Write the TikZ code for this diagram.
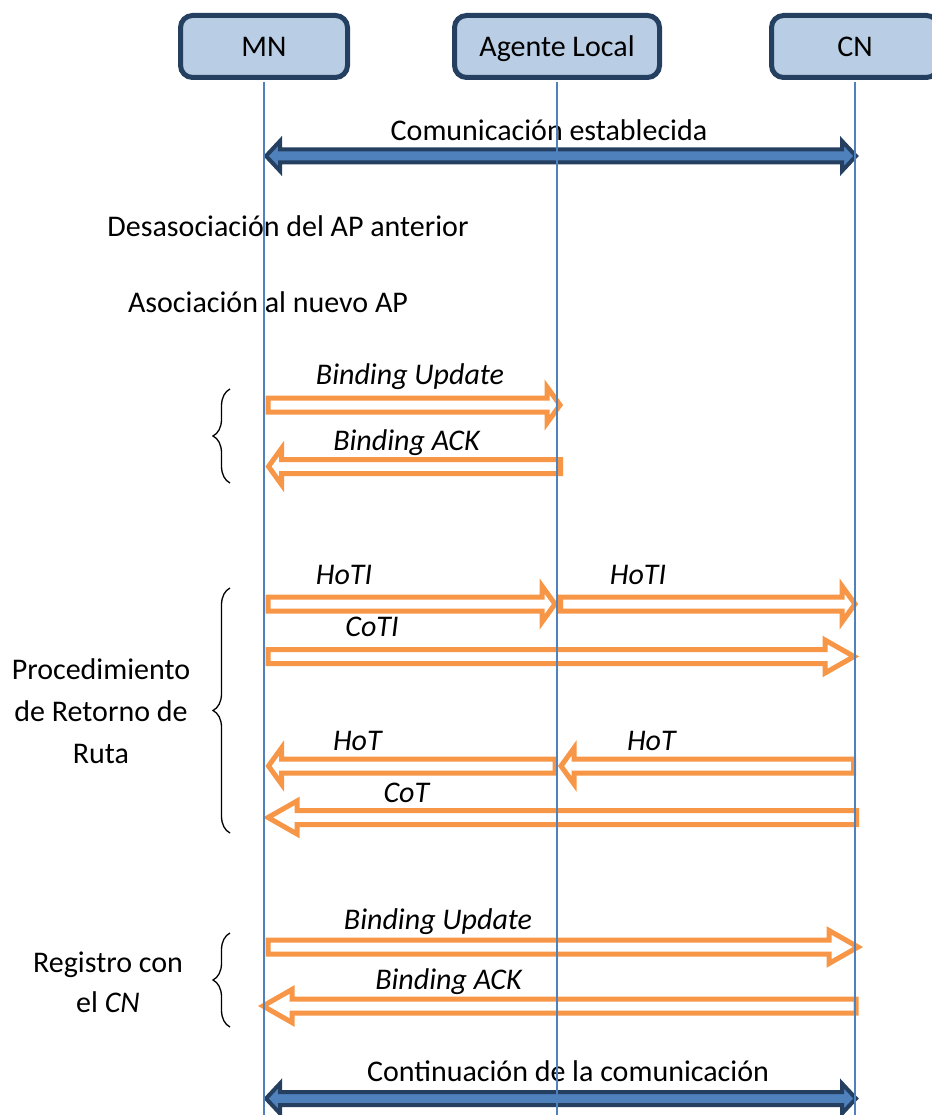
\documentclass[tikz,border=0pt]{standalone}
\usepackage{fontspec}
\setmainfont{Carlito}
\usetikzlibrary{calc,decorations.pathreplacing}
\definecolor{boxfill}{HTML}{B9CDE5}
\definecolor{boxdraw}{HTML}{243F60}
\definecolor{lifeblue}{HTML}{4F81BD}
\definecolor{orng}{HTML}{F79646}
\definecolor{darkfill}{HTML}{4F81BD}
\definecolor{darkdraw}{HTML}{243F60}

% hollow block arrow: #1 style, #2 from, #3 tip, #4 shaft half, #5 head half, #6 head length
\newcommand\blockarrow[6]{%
  \path[#1] let \p1=(#2), \p2=(#3), \n1={ifthenelse(\x2>\x1,1,-1)} in
    (\x1,\y1+#4) -- ({\x2-\n1*#6},\y1+#4) -- ({\x2-\n1*#6},\y1+#5) -- (\x2,\y1)
    -- ({\x2-\n1*#6},\y1-#5) -- ({\x2-\n1*#6},\y1-#4) -- (\x1,\y1-#4) -- cycle;}
% double-headed block arrow (left to right): #1 style, #2 left tip, #3 right tip, #4 shaft half, #5 head half, #6 head length
\newcommand\dblarrow[6]{%
  \path[#1] let \p1=(#2), \p2=(#3) in
    (\x1,\y1) -- (\x1+#6,\y1+#5) -- (\x1+#6,\y1+#4) -- (\x2-#6,\y1+#4) -- (\x2-#6,\y1+#5)
    -- (\x2,\y1) -- (\x2-#6,\y1-#5) -- (\x2-#6,\y1-#4) -- (\x1+#6,\y1-#4) -- (\x1+#6,\y1-#5) -- cycle;}

\begin{document}
\begin{tikzpicture}[x=1pt,y=-1pt,
  every node/.style={font=\fontsize{30}{42}\selectfont, inner sep=0pt},
  lbl/.style={text height=19.3pt, text depth=0pt},
  entity/.style={draw=boxdraw, fill=boxfill, line width=5pt, rounded corners=12pt,
    minimum height=62pt, text height=19.3pt, text depth=0pt},
  hollow/.style={draw=orng, fill=white, line width=5pt, line join=miter},
  darkarrow/.style={draw=darkdraw, fill=darkfill, line width=4pt, line join=miter},
  lifeline/.style={draw=lifeblue, line width=1.3pt},
  bracestyle/.style={draw=black, line width=1.3pt, decorate, decoration={brace, amplitude=17pt}}]
\useasboundingbox (0,0) rectangle (931,1115);

% participants
\node[entity, minimum width=167pt] (mn) at (264,46.5) {MN};
\node[entity, minimum width=205pt] (al) at (557,46.5) {Agente Local};
\node[entity, minimum width=167pt] (cn) at (855,46.5) {CN};
\coordinate (bot) at (0,1115);

% coordinates on the lifelines
\coordinate (c1a) at (266,156);   \coordinate (c1b) at (856,156);
\coordinate (bu1a) at (268,405);  \coordinate (bu1b) at (560,405);
\coordinate (ba1a) at (560.5,466.5); \coordinate (ba1b) at (268.5,466.5);
\coordinate (hti1a) at (268,604); \coordinate (hti1b) at (555,604);
\coordinate (hti2a) at (560.5,604); \coordinate (hti2b) at (855,604);
\coordinate (coti1) at (268,656.5); \coordinate (coti2) at (854,656.5);
\coordinate (hot2a) at (853.5,766); \coordinate (hot2b) at (561,766);
\coordinate (hot1a) at (555,766); \coordinate (hot1b) at (268.5,766);
\coordinate (cot1) at (856.5,817.5); \coordinate (cot2) at (268,817.5);
\coordinate (bu2a) at (268,947); \coordinate (bu2b) at (858,947);
\coordinate (ba2a) at (856,1006); \coordinate (ba2b) at (263,1006);
\coordinate (c2a) at (266,1098.5); \coordinate (c2b) at (856,1098.5);

% dark double arrows
\dblarrow{darkarrow}{c1a}{c1b}{6.5pt}{15pt}{14pt}
\dblarrow{darkarrow}{c2a}{c2b}{6.5pt}{15pt}{14pt}

% hollow orange arrows
\blockarrow{hollow}{bu1a}{bu1b}{7pt}{18pt}{13pt}
\blockarrow{hollow}{ba1a}{ba1b}{7pt}{18pt}{13pt}
\blockarrow{hollow}{hti1a}{hti1b}{7pt}{18pt}{13pt}
\blockarrow{hollow}{hti2a}{hti2b}{7pt}{18pt}{13pt}
\blockarrow{hollow}{coti1}{coti2}{7pt}{16.5pt}{29pt}
\blockarrow{hollow}{hot2a}{hot2b}{7pt}{18pt}{13pt}
\blockarrow{hollow}{hot1a}{hot1b}{7pt}{18pt}{13pt}
\blockarrow{hollow}{cot1}{cot2}{7pt}{16.5pt}{29pt}
\blockarrow{hollow}{bu2a}{bu2b}{7pt}{16.5pt}{29pt}
\blockarrow{hollow}{ba2a}{ba2b}{7pt}{16.5pt}{29pt}

% labels
\node[lbl] (t1) at (549,131) {Comunicación establecida};
\node[lbl] (t2) at (288,227) {Desasociación del AP anterior};
\node[lbl] (t3) at (268,303) {Asociación al nuevo AP};
\node[lbl] (l1) at (410,375) {\textit{Binding Update}};
\node[lbl] (l2) at (407,441) {\textit{Binding ACK}};
\node[lbl] (l3) at (344,575) {\textit{HoTI}};
\node[lbl] (l4) at (638,575) {\textit{HoTI}};
\node[lbl] (l5) at (372,627) {\textit{CoTI}};
\node[lbl] (l6) at (358,741) {\textit{HoT}};
\node[lbl] (l7) at (652,741) {\textit{HoT}};
\node[lbl] (l8) at (407,793) {\textit{CoT}};
\node[lbl] (l9) at (438,920) {\textit{Binding Update}};
\node[lbl] (l10) at (449,980) {\textit{Binding ACK}};
\node[lbl] (t4) at (568,1072) {Continuación de la comunicación};

% braces and group labels
\draw[bracestyle] (230,483) -- (230,389);
\draw[bracestyle] (230,833) -- (230,588);
\draw[bracestyle] (230,1027) -- (230,933);
\node[align=center] (g1) at (101,711) {Procedimiento\\de Retorno de\\Ruta};
\node[align=center, font=\fontsize{30}{40}\selectfont] (g2) at (108,982) {Registro con\\el \textit{CN}};

% lifelines
\draw[lifeline] ([yshift=-2.5pt]mn.south) -- (mn.south |- bot);
\draw[lifeline] ([yshift=-2.5pt]al.south) -- (al.south |- bot);
\draw[lifeline] ([yshift=-2.5pt]cn.south) -- (cn.south |- bot);
\end{tikzpicture}
\end{document}
